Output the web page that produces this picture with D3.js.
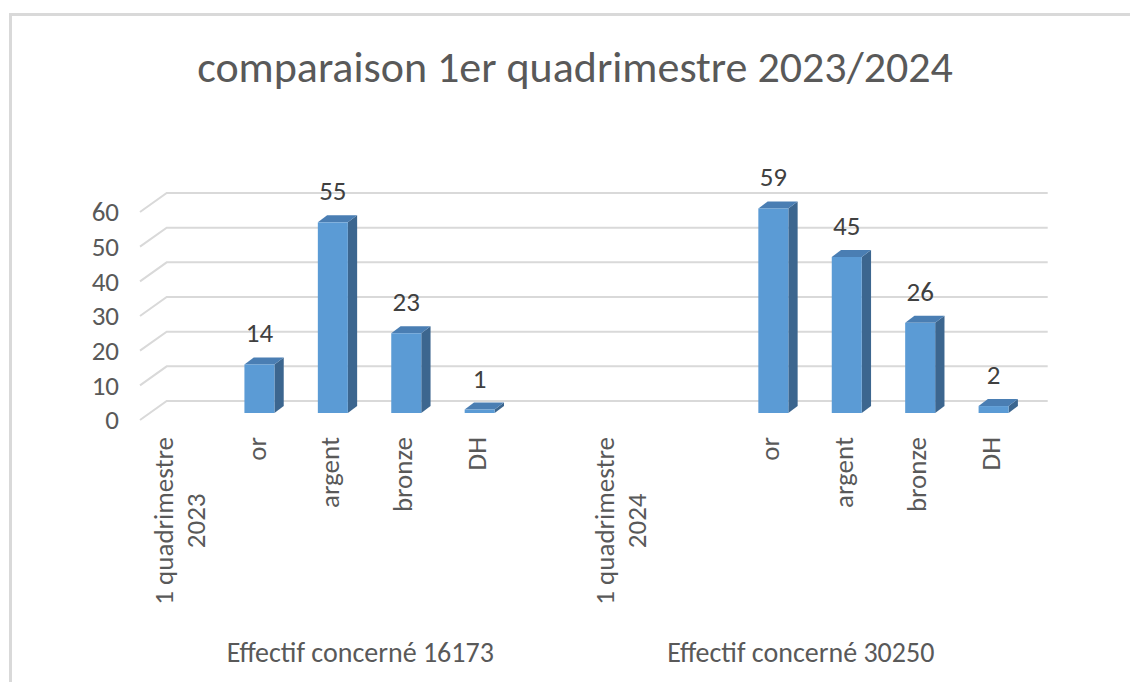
<!DOCTYPE html>
<html>
<head>
<meta charset="utf-8">
<script src="https://cdn.jsdelivr.net/npm/d3@7"></script>
<style>
  body { margin: 0; background: #fff; }
  svg { display: block; font-family: Carlito, Calibri, Lato, sans-serif; }
</style>
</head>
<body>
<svg id="chart" width="1130" height="682"></svg>
<script>
// data
const title = 'comparaison 1er quadrimestre 2023/2024';
const categories = ['1 quadrimestre 2023', 'or', 'argent', 'bronze', 'DH', '',
                    '1 quadrimestre 2024', '', 'or', 'argent', 'bronze', 'DH'];
const values = [null, 14, 55, 23, 1, null,
                null, null, 59, 45, 26, 2];
const groups = ['Effectif concerné 16173', 'Effectif concerné 30250'];
const groupSize = 6;
const yTicks = [0, 10, 20, 30, 40, 50, 60];

const svg = d3.select('#chart');
const fontSize = '27px';

// outer frame of the chart area
svg.append('rect')
   .attr('x', 10.5).attr('y', 14.5)
   .attr('width', 1300).attr('height', 900)
   .attr('fill', '#fff')
   .attr('stroke', '#d9d9d9')
   .attr('stroke-width', 3);

// 3D-ish projection: front plane scales, the back wall is shifted by depth
const depth = { dx: 26.7, dy: -19 };
const x = d3.scaleBand()
            .domain(d3.range(categories.length))
            .range([140, 1021]);
const y = d3.scaleLinear().domain([0, 60]).range([420, 212]);

// title
svg.append('text')
   .attr('x', 575).attr('y', 82)
   .attr('text-anchor', 'middle')
   .attr('fill', '#595959')
   .style('font-size', '44px')
   .text(title);

// gridlines: floor diagonal + back wall line
svg.append('g')
   .selectAll('path')
   .data(yTicks)
   .enter().append('path')
     .attr('d', d => `M${x.range()[0]},${y(d)} L${x.range()[0] + depth.dx},${y(d) + depth.dy} L${x.range()[1] + depth.dx},${y(d) + depth.dy}`)
     .attr('fill', 'none')
     .attr('stroke', '#d9d9d9')
     .attr('stroke-width', 2);

// y tick labels
svg.append('g')
   .selectAll('text')
   .data(yTicks)
   .enter().append('text')
     .attr('x', 119)
     .attr('y', d => y(d))
     .attr('dy', '0.35em')
     .attr('text-anchor', 'end')
     .attr('fill', '#595959')
     .style('font-size', fontSize)
     .text(d => d);

// bars
const barW = 30;
const barD = { dx: 9.3, dy: -7 };
const bars = svg.append('g')
                .selectAll('g')
                .data(values.map((v, i) => ({ v, i })).filter(d => d.v !== null))
                .enter().append('g');

const bx0 = d => x(d.i) + x.bandwidth() / 2 + barD.dx - barW / 2;
const bx1 = d => bx0(d) + barW;
const byTop = d => y(d.v) + barD.dy;
const byBot = d => y(0) + barD.dy;

bars.append('path')
    .attr('d', d => `M${bx1(d)},${byTop(d)} L${bx1(d) + barD.dx},${byTop(d) + barD.dy} L${bx1(d) + barD.dx},${byBot(d) + barD.dy} L${bx1(d)},${byBot(d)}Z`)
    .attr('fill', '#3c668f');

bars.append('path')
    .attr('d', d => `M${bx0(d)},${byTop(d)} L${bx0(d) + barD.dx},${byTop(d) + barD.dy} L${bx1(d) + barD.dx},${byTop(d) + barD.dy} L${bx1(d)},${byTop(d)}Z`)
    .attr('fill', '#4a7eb3');

bars.append('rect')
    .attr('x', bx0)
    .attr('y', byTop)
    .attr('width', barW)
    .attr('height', d => byBot(d) - byTop(d))
    .attr('fill', '#5b9bd5');

// data labels
bars.append('text')
    .attr('x', d => bx0(d) + barW / 2)
    .attr('y', d => byTop(d) - 22)
    .attr('text-anchor', 'middle')
    .attr('fill', '#404040')
    .style('font-size', fontSize)
    .text(d => d.v);

// rotated category labels
const labelTop = 437;
const lineGap = 32;
const catG = svg.append('g')
                .selectAll('g')
                .data(categories.map((c, i) => ({ c, i })).filter(d => d.c !== ''))
                .enter().append('g');

catG.each(function (d) {
  const g = d3.select(this);
  const lines = d.c.length > 12
    ? [d.c.slice(0, d.c.lastIndexOf(' ')), d.c.slice(d.c.lastIndexOf(' ') + 1)]
    : [d.c];
  const cx = x(d.i) + x.bandwidth() / 2 + (lines.length > 1 ? -lineGap / 2 + 3 : 6);
  g.attr('transform', `translate(${cx},${labelTop}) rotate(-90)`);
  const t = g.append('text')
             .attr('fill', '#595959')
             .attr('text-anchor', 'middle')
             .style('font-size', fontSize);
  const spans = t.selectAll('tspan')
                 .data(lines)
                 .enter().append('tspan')
                   .attr('y', (l, k) => k * lineGap)
                   .attr('dy', '0.35em')
                   .text(l => l);
  const longest = d3.max(spans.nodes(), n => n.getComputedTextLength());
  spans.attr('x', -longest / 2);
});

// group labels
svg.append('g')
   .selectAll('text')
   .data(groups)
   .enter().append('text')
     .attr('x', (d, k) => (x(k * groupSize) + x(k * groupSize + groupSize - 1) + x.bandwidth()) / 2)
     .attr('y', 662)
     .attr('text-anchor', 'middle')
     .attr('fill', '#595959')
     .style('font-size', '28px')
     .text(d => d);
</script>
</body>
</html>
